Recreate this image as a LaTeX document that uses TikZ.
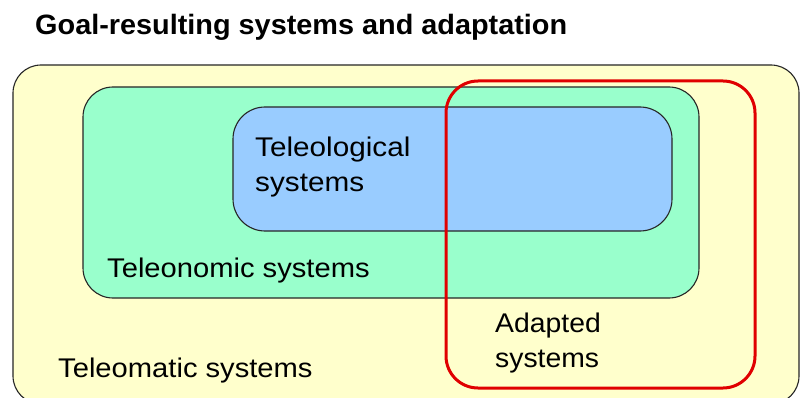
\documentclass[tikz,border=0pt]{standalone}
\usepackage{fontspec}
\setmainfont{Liberation Sans}
\definecolor{yel}{HTML}{FFFFCC}
\definecolor{grn}{HTML}{99FFCC}
\definecolor{blu}{HTML}{99CCFF}
\definecolor{rd}{HTML}{E00000}
\begin{document}
\begin{tikzpicture}[x=1pt,y=-1pt,
  box/.style={draw=black!85, line width=1.1pt},
  lbl/.style={inner sep=0pt, anchor=base west, font=\fontsize{27}{32}\selectfont},
  ttl/.style={inner sep=0pt, anchor=base west, font=\fontsize{28}{32}\selectfont\bfseries}]
\useasboundingbox (0,0) rectangle (800,398);
\fill[white] (0,0) rectangle (800,398);
% boxes
\draw[box, fill=yel, rounded corners=28pt] (13,65) rectangle (799,404);
\draw[box, fill=grn, rounded corners=30pt] (83,87) rectangle (699,298);
\draw[box, fill=blu, rounded corners=32pt] (233,107) rectangle (672,231);
\draw[draw=rd, line width=3pt, rounded corners=32pt] (446,81) rectangle (755,388);
% labels
\node[ttl] (title) at (35,35) {\scalebox{1.03}[1]{Goal-resulting systems and adaptation}};
\node[lbl] (tlA) at (255,157) {\scalebox{1.1}[1]{Teleological}};
\node[lbl] (tlB) at (255,192) {\scalebox{1.1}[1]{systems}};
\node[lbl] (tn) at (107,277) {\scalebox{1.08}[1]{Teleonomic systems}};
\node[lbl] (tm) at (58,377) {\scalebox{1.08}[1]{Teleomatic systems}};
\node[lbl] (adA) at (495,332) {\scalebox{1.05}[1]{Adapted}};
\node[lbl] (adB) at (495,367) {\scalebox{1.05}[1]{systems}};
\end{tikzpicture}
\end{document}
